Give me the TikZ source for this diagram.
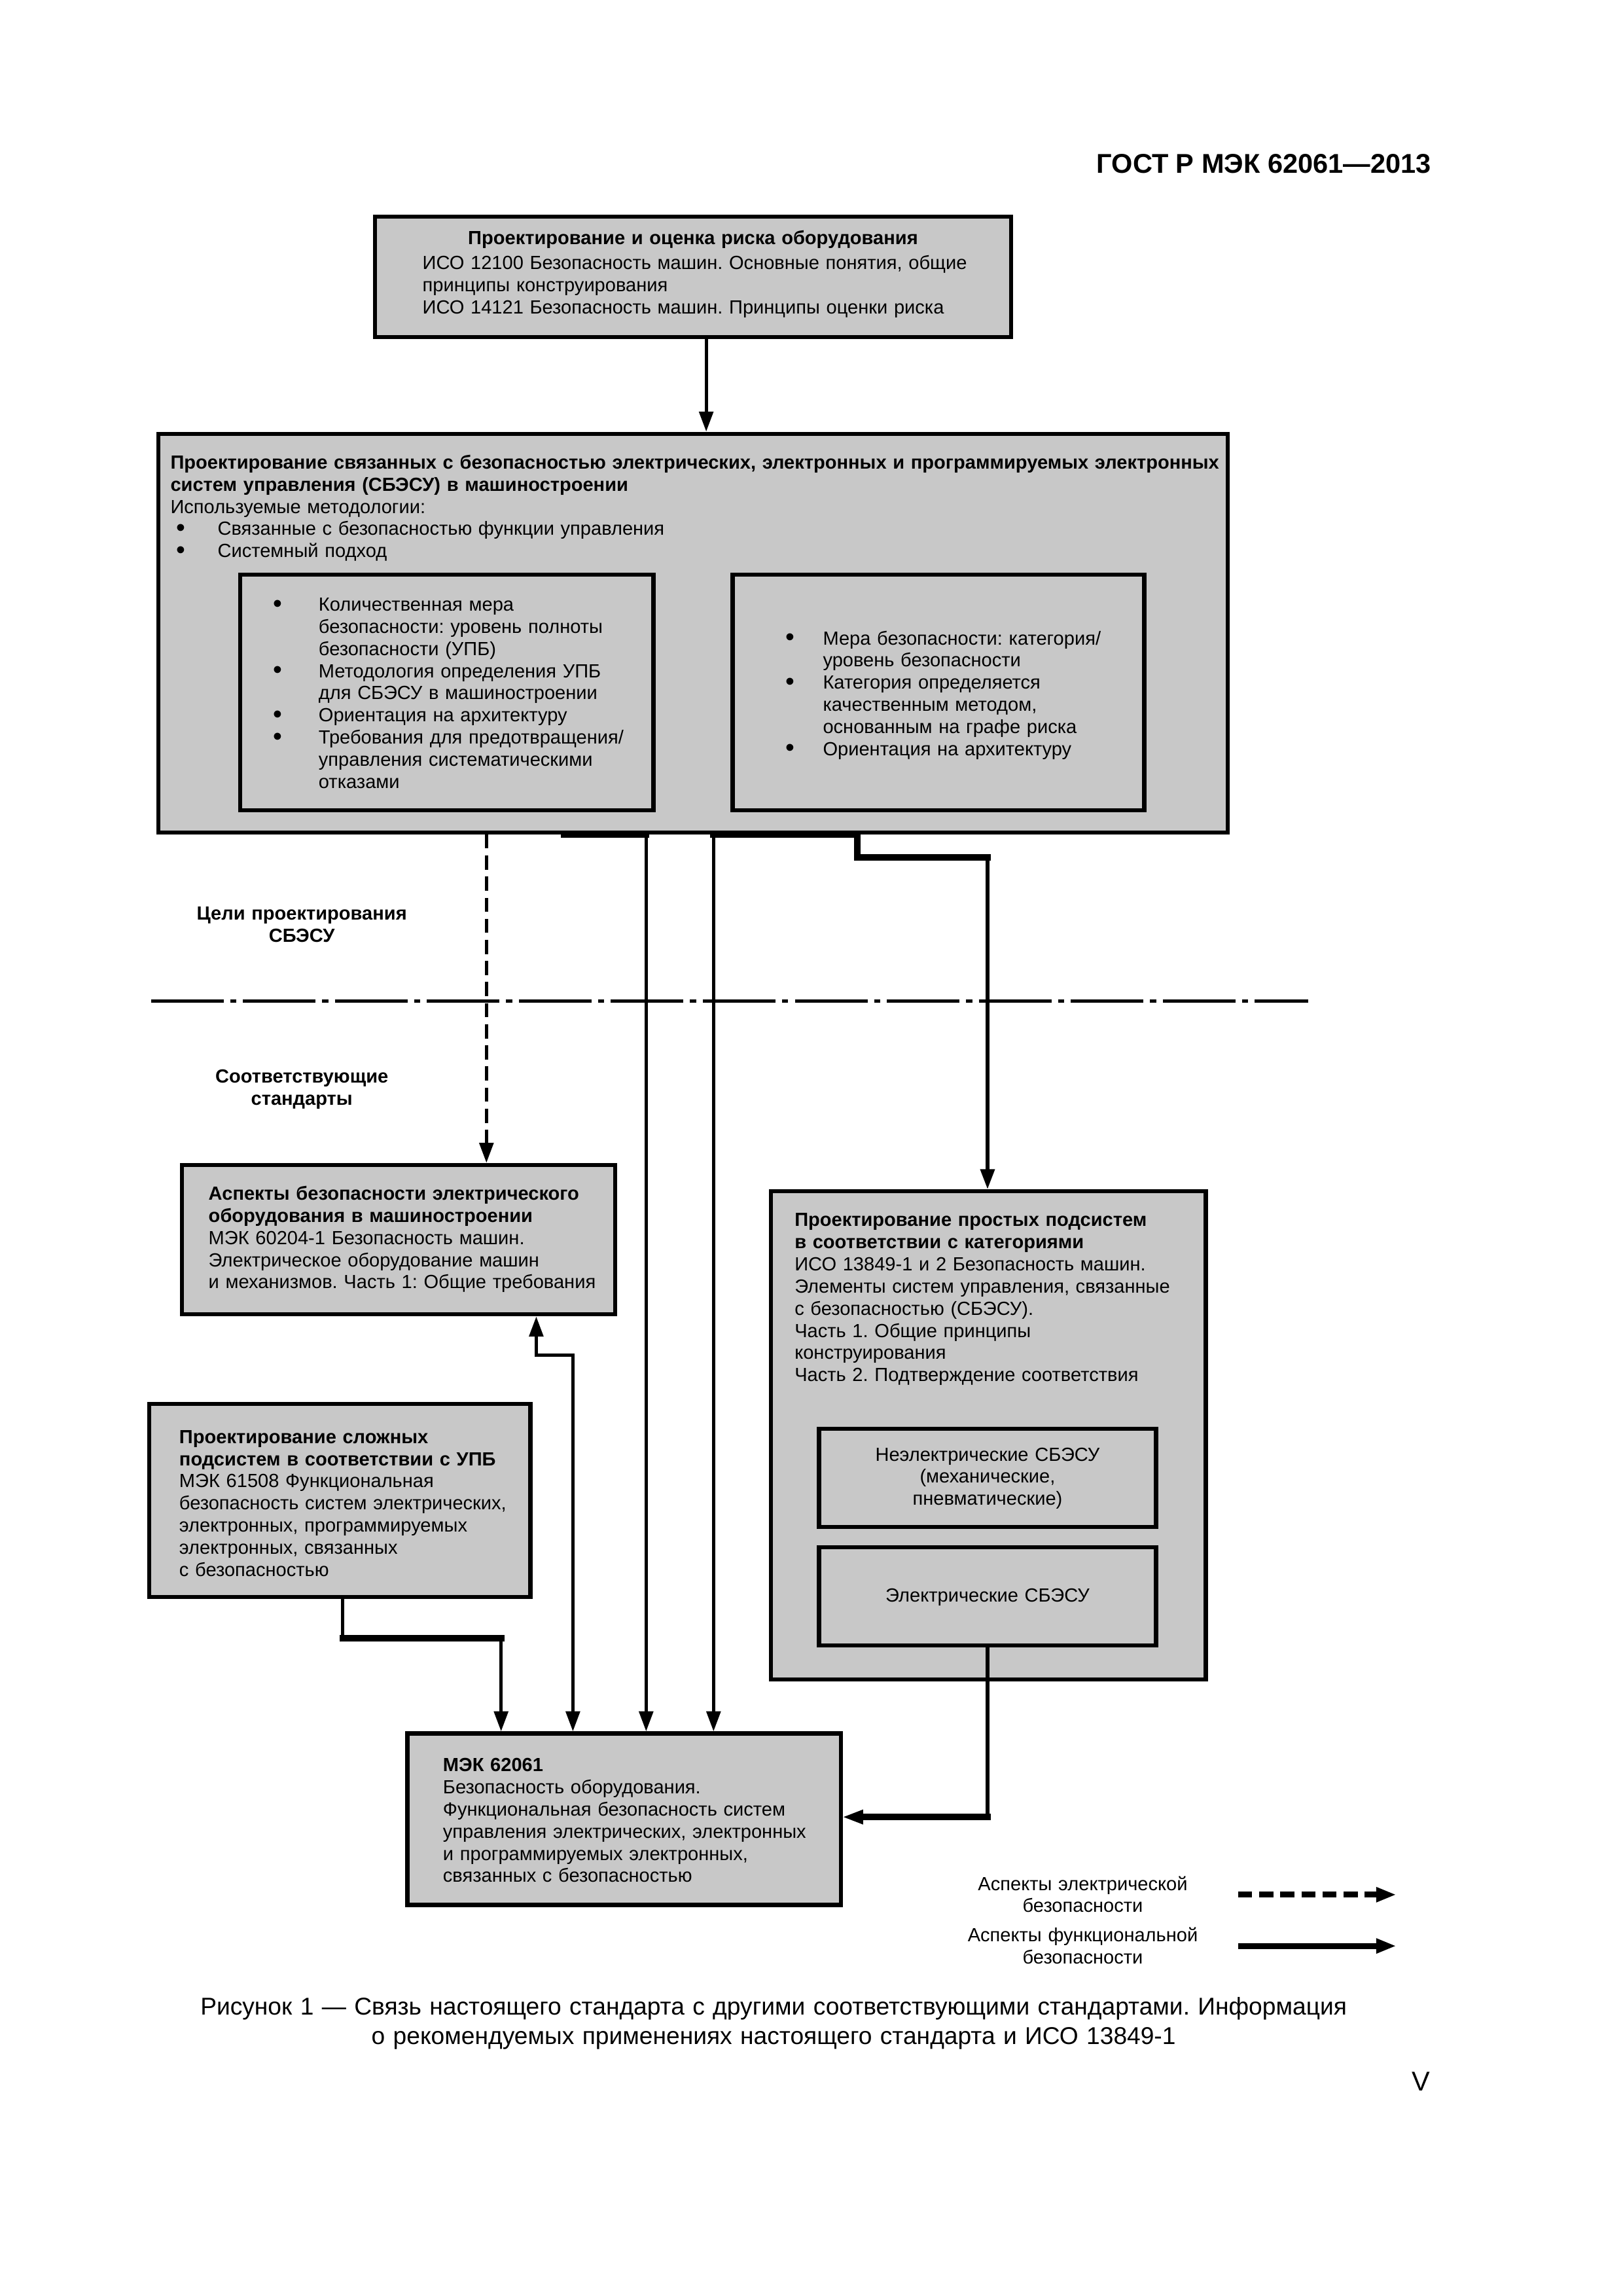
\documentclass[tikz,border=0pt]{standalone}
\usepackage{fontspec}
\setmainfont{Liberation Sans}
\usetikzlibrary{arrows.meta,fit,calc}
\definecolor{boxgray}{RGB}{200,200,200}
\newcommand\blt[1]{\makebox[#1][l]{\raisebox{-0.4pt}{\fontsize{9.5}{0}\selectfont\textbullet}}}
\newcommand\ind[1]{\hspace*{#1}}
\frenchspacing
\begin{document}
\begin{tikzpicture}[x=0.18954mm,y=-0.18954mm,
  box/.style={draw, line width=1.5pt, fill=boxgray, inner sep=0pt},
  txt/.style={inner sep=0pt, font=\fontsize{7}{8.15}\selectfont, text width=150mm, align=left, anchor=base west},
  ctxt/.style={inner sep=0pt, font=\fontsize{7}{8.15}\selectfont, text width=60mm, align=center, anchor=base},
  tip/.style={-{Triangle[length=2.6mm,width=1.8mm]}},
  conn/.style={line width=1.2pt, tip},
  thickseg/.style={line width=2.4pt, line cap=rect},
  dashes/.style={dash pattern=on 1.83mm off 0.9mm}
]
\useasboundingbox (0,0) rectangle (1107.7,1566.9);

% header
\node[inner sep=0pt, anchor=base east, font=\fontsize{10}{12}\selectfont\bfseries] (hdr) at (977,118) {ГОСТ Р МЭК 62061—2013};

% top box
\node[box, fit={(256,148) (690,230)}] (top) {};
\node[ctxt, font=\fontsize{7}{8.15}\selectfont\bfseries] (topT) at (473,167) {Проектирование и оценка риска оборудования};
\node[txt] (topB) at (288,184) {ИСО 12100 Безопасность машин. Основные понятия, общие\\принципы конструирования\\ИСО 14121 Безопасность машин. Принципы оценки риска};

% big box
\node[box, fit={(108,296) (838,568)}] (big) {};
\node[txt] (bigT) at (116,320) {\textbf{Проектирование связанных с безопасностью электрических, электронных и программируемых электронных}\\\textbf{систем управления (СБЭСУ) в машиностроении}\\Используемые методологии:\\\ind{0.76mm}\blt{5.34mm}Связанные с безопасностью функции управления\\\ind{0.76mm}\blt{5.34mm}Системный подход};

\node[box, fit={(164,392) (446,553)}] (inL) {};
\node[txt] (inLT) at (186,417) {\blt{5.9mm}Количественная мера\\\ind{5.9mm}безопасности: уровень полноты\\\ind{5.9mm}безопасности (УПБ)\\\blt{5.9mm}Методология определения УПБ\\\ind{5.9mm}для СБЭСУ в машиностроении\\\blt{5.9mm}Ориентация на архитектуру\\\blt{5.9mm}Требования для предотвращения/\\\ind{5.9mm}управления систематическими\\\ind{5.9mm}отказами};

\node[box, fit={(500,392) (781,553)}] (inR) {};
\node[txt] (inRT) at (536,440) {\blt{4.8mm}Мера безопасности: категория/\\\ind{4.8mm}уровень безопасности\\\blt{4.8mm}Категория определяется\\\ind{4.8mm}качественным методом,\\\ind{4.8mm}основанным на графе риска\\\blt{4.8mm}Ориентация на архитектуру};

% section labels and dash-dot line
\node[ctxt, font=\fontsize{7}{8.15}\selectfont\bfseries] (lab1) at (206,628) {Цели проектирования\\СБЭСУ};
\node[ctxt, font=\fontsize{7}{8.15}\selectfont\bfseries] (lab2) at (206,739) {Соответствующие\\стандарты};
\coordinate (dl1) at (103,683);
\coordinate (dl2) at (893,683);
\draw[line width=1.2pt, dash pattern=on 9.4mm off 0.85mm on 0.8mm off 0.85mm] (dl1) -- (dl2);

% electrical box
\node[box, fit={(124,795) (420,897)}] (elec) {};
\node[txt] (elecT) at (142,819) {\textbf{Аспекты безопасности электрического}\\\textbf{оборудования в машиностроении}\\МЭК 60204-1 Безопасность машин.\\Электрическое оборудование машин\\и механизмов. Часть 1: Общие требования};

% simple subsystems box
\node[box, fit={(526,813) (823,1146)}] (simple) {};
\node[txt] (simpleT) at (542,837) {\textbf{Проектирование простых подсистем}\\\textbf{в соответствии с категориями}\\ИСО 13849-1 и 2 Безопасность машин.\\Элементы систем управления, связанные\\с безопасностью (СБЭСУ).\\Часть 1. Общие принципы\\конструирования\\Часть 2. Подтверждение соответствия};
\node[box, fit={(559,975) (789,1042)}] (nonel) {};
\node[ctxt] (nonelT) at (674,997) {Неэлектрические СБЭСУ\\(механические,\\пневматические)};
\node[box, fit={(559,1056) (789,1123)}] (elsb) {};
\node[ctxt] (elsbT) at (674,1093) {Электрические СБЭСУ};

% complex subsystems box
\node[box, fit={(102,958) (362,1090)}] (cplx) {};
\node[txt] (cplxT) at (122,985) {\textbf{Проектирование сложных}\\\textbf{подсистем в соответствии с УПБ}\\МЭК 61508 Функциональная\\безопасность систем электрических,\\электронных, программируемых\\электронных, связанных\\с безопасностью};

% IEC 62061 box
\node[box, fit={(278,1183) (574,1300)}] (iec) {};
\node[txt] (iecT) at (302,1209) {\textbf{МЭК 62061}\\Безопасность оборудования.\\Функциональная безопасность систем\\управления электрических, электронных\\и программируемых электронных,\\связанных с безопасностью};

% column coordinates
\coordinate (c482) at (482,0);
\coordinate (c332) at (332,0);
\coordinate (c385) at (385,0);
\coordinate (c441) at (441,0);
\coordinate (c487) at (487,0);
\coordinate (c585) at (585,0);
\coordinate (k1) at (585,585);
\coordinate (k2) at (674,585);
\coordinate (c366) at (366,0);
\coordinate (e1) at (366,925);
\coordinate (e2) at (391,925);
\coordinate (c234) at (234,0);
\coordinate (p1) at (234,1118);
\coordinate (p2) at (342,1118);
\coordinate (r1) at (674,1240);
\coordinate (r2) at (588,1240);

% connectors
\draw[conn] (top.south -| c482) -- (big.north -| c482);
\draw[conn, dashes] (big.south -| c332) -- (elec.north -| c332);
\draw[thickseg] (big.south -| c385) -- (big.south -| c441);
\draw[conn] (big.south -| c441) -- (iec.north -| c441);
\draw[conn] (big.south -| c487) -- (iec.north -| c487);
\draw[thickseg] (big.south -| c487) -- (big.south -| c585) -- (k1) -- (k2);
\draw[conn, line width=1.4pt] (k2) -- (simple.north -| k2);
\draw[line width=1.2pt, {Triangle[length=2.6mm,width=1.8mm]}-{Triangle[length=2.6mm,width=1.8mm]}] (elec.south -| c366) -- (e1) -- (e2) -- (iec.north -| e2);
\draw[conn] (cplx.south -| c234) -- (p1) -- (p2) -- (iec.north -| p2);
\draw[thickseg] (p1) -- (p2);
\draw[conn, line width=1.4pt] (elsb.south) -- (r1) -- (iec.east |- r1);
\draw[thickseg] (r1) -- (r2);

% legend
\node[ctxt] (lg1T) at (739,1290) {Аспекты электрической\\безопасности};
\node[ctxt] (lg2T) at (739,1325) {Аспекты функциональной\\безопасности};
\coordinate (lg1s) at (845,1293);
\coordinate (lg1e) at (953,1293);
\coordinate (lg2s) at (845,1328);
\coordinate (lg2e) at (953,1328);
\draw[line width=2.2pt, tip, dashes] (lg1s) -- (lg1e);
\draw[line width=2.2pt, tip] (lg2s) -- (lg2e);

% caption and page number
\node[inner sep=0pt, anchor=base, align=center, text width=200mm, font=\fontsize{8.95}{10.8}\selectfont] (cap) at (528,1375) {Рисунок 1 — Связь настоящего стандарта с другими соответствующими стандартами. Информация\\о рекомендуемых применениях настоящего стандарта и ИСО 13849-1};
\node[inner sep=0pt, anchor=base, font=\fontsize{10}{12}\selectfont] (pg) at (970,1427) {V};
\end{tikzpicture}
\end{document}
